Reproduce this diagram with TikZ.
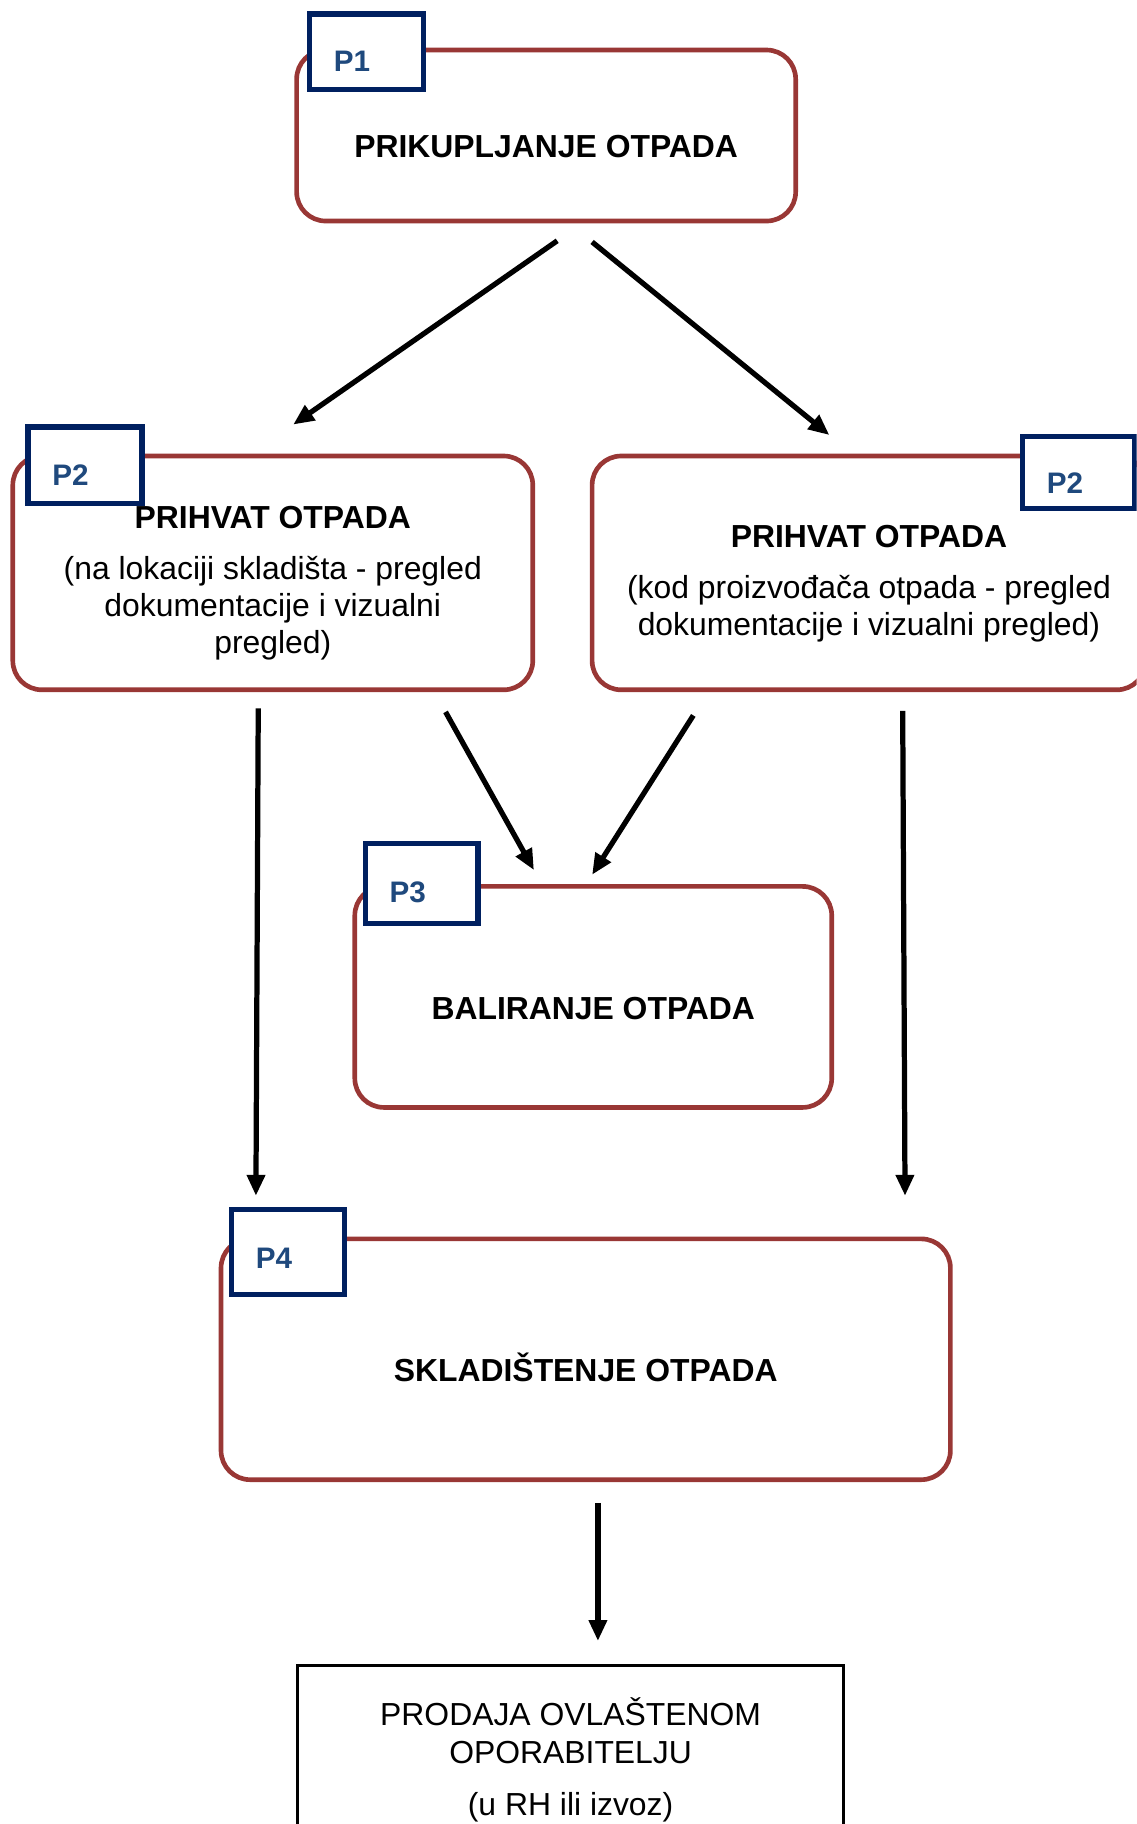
\documentclass[tikz,border=0pt]{standalone}
\usepackage{fontspec}
\setmainfont{Liberation Sans}
\usetikzlibrary{arrows.meta,calc}
\definecolor{boxred}{RGB}{153,55,53}
\definecolor{tagnavy}{RGB}{0,32,96}
\definecolor{tagtext}{RGB}{31,73,125}
\tikzset{
  stage/.style={draw=boxred, line width=4pt, rounded corners=25pt, fill=white,
    inner sep=0pt, align=center, font=\fontsize{27.4}{32}\selectfont},
  oneline/.style={text height=38pt, text depth=0pt, font=\fontsize{27.4}{32}\selectfont\bfseries},
  tagbox/.style={draw=tagnavy, line width=4.5pt, fill=white, inner xsep=21pt, inner ysep=0pt,
    align=left, text=tagtext, font=\fontsize{25.5}{30}\selectfont\bfseries,
    text height=34pt, text depth=0pt},
  outbox/.style={draw=black, line width=2.6pt, fill=white, inner sep=0pt, align=center,
    font=\fontsize{27.4}{32}\selectfont},
  arr/.style={line width=4.5pt, -{Triangle[length=18pt,width=15pt]}}
}
\begin{document}
\begin{tikzpicture}[x=1pt,y=-1pt]
\useasboundingbox (0,0) rectangle (977,1568);
\clip (0,0) rectangle (977,1568);

% main process boxes
\node[stage, oneline, minimum width=429pt, minimum height=147pt] (p1) at (469.5,116.5) {PRIKUPLJANJE OTPADA};
\node[stage, minimum width=447pt, minimum height=201pt] (p2l) at (234.5,492.5)
  {\rule{0pt}{36.6pt}\textbf{PRIHVAT OTPADA}\\[12pt](na lokaciji skladišta - pregled\\dokumentacije i vizualni\\pregled)};
\node[stage, minimum width=476pt, minimum height=201pt] (p2r) at (747,492.5)
  {\rule{0pt}{37.6pt}\textbf{PRIHVAT OTPADA}\\[12pt](kod proizvođača otpada - pregled\\dokumentacije i vizualni pregled)};
\node[stage, oneline, minimum width=410pt, minimum height=190pt] (p3) at (510,857) {BALIRANJE OTPADA};
\node[stage, oneline, minimum width=627pt, minimum height=207pt] (p4) at (503.5,1168.5) {SKLADIŠTENJE OTPADA};
\node[outbox, minimum width=469pt, minimum height=162pt] (out) at (490.5,1513)
  {PRODAJA OVLAŠTENOM\\OPORABITELJU\\[13pt](u RH ili izvoz)};

% tags
\node[tagbox, text width=56pt, minimum width=98pt, minimum height=65pt] (t1) at (315,44.5) {P1};
\node[tagbox, text width=56pt, minimum width=98pt, minimum height=66pt] (t2l) at (73,400) {P2};
\node[tagbox, text width=54pt, minimum width=96pt, minimum height=62pt, text height=36pt] (t2r) at (927,406) {P2};
\node[tagbox, text width=55pt, minimum width=97pt, minimum height=69pt, text height=32pt] (t3) at (362.5,759.5) {P3};
\node[tagbox, text width=55pt, minimum width=97pt, minimum height=73pt, text height=28pt] (t4) at (247.5,1076.5) {P4};

% connectors
\draw[arr] ($(p1.south)+(9.5,15)$) -- ($(p2l.north)+(17.5,-25)$);
\draw[arr] ($(p1.south)+(39.5,16)$) -- ($(p2r.north)+(-34,-16)$);
\draw[arr] ($(p2l.south)+(-12.5,14)$) -- ($(p4.north west)+(32,-35)$);
\draw[arr] ($(p2l.south)+(148.5,17)$) -- ($(p3.north)+(-51,-12)$);
\draw[arr] ($(p2r.south)+(-151,20)$) -- ($(p3.north)+(-1,-8)$);
\draw[arr] ($(p2r.south)+(29,16)$) -- ($(p4.north east)+(-41,-35)$);
\draw[arr] ($(p4.south)+(10.5,18)$) -- ($(out.north)+(23.5,-20)$);
\end{tikzpicture}
\end{document}
